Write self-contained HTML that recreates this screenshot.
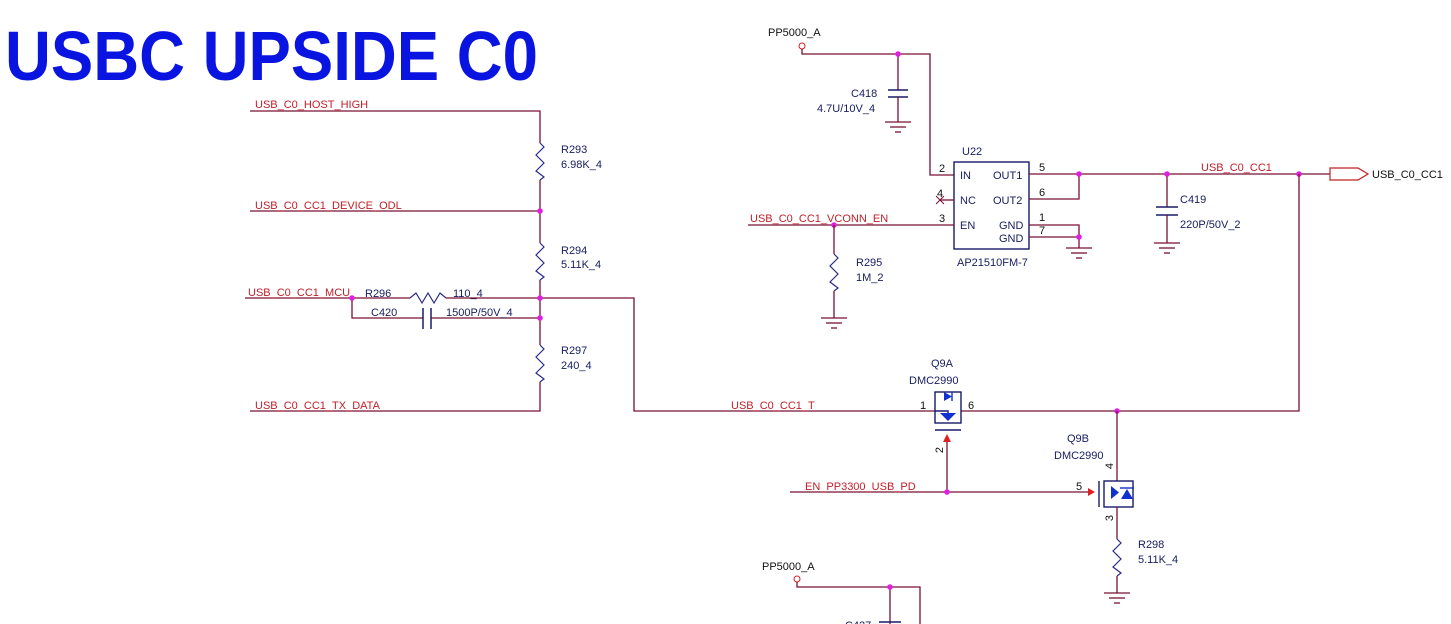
<!DOCTYPE html>
<html><head><meta charset="utf-8"><style>
html,body{margin:0;padding:0;background:#fff;width:1451px;height:624px;overflow:hidden}
svg{display:block}
.w{stroke:#7a1030;stroke-width:1.3;fill:none}
.r{stroke:#2a2a8a;stroke-width:1.2;fill:none}
.c{stroke:#1a1a6a;stroke-width:1.5;fill:none}
.d{fill:#e020e0}
.nl{fill:#c0202a;font-family:"Liberation Sans",sans-serif;font-size:11px}
.cl{fill:#1a2060;font-family:"Liberation Sans",sans-serif;font-size:11px}
.pl{fill:#111;font-family:"Liberation Sans",sans-serif;font-size:11px}
.bk{stroke:#1a1a6a;stroke-width:1.4;fill:none}
.bl{fill:#1030d0}
</style></head><body>
<svg width="1451" height="624" viewBox="0 0 1451 624" xmlns="http://www.w3.org/2000/svg">
<defs>
<g id="gnd"><line x1="-13" y1="0" x2="13" y2="0" stroke="#7a1030" stroke-width="1.3"/><line x1="-8" y1="5" x2="8" y2="5" stroke="#7a1030" stroke-width="1.3"/><line x1="-3" y1="10" x2="3" y2="10" stroke="#7a1030" stroke-width="1.3"/></g>
<g id="res"><polyline points="0,0 4,4 -4,12 4,20 -4,28 4,34 0,37" stroke="#2a2a8a" stroke-width="1.2" fill="none"/></g>
</defs>
<text x="5" y="80" font-family="'Liberation Sans',sans-serif" font-weight="bold" font-size="70" fill="#0a14e0" textLength="533" lengthAdjust="spacingAndGlyphs">USBC UPSIDE C0</text>

<!-- Left section -->
<polyline class="w" points="250,111 540,111 540,143"/>
<use href="#res" x="540" y="143"/>
<line class="w" x1="540" y1="180" x2="540" y2="243"/>
<use href="#res" x="540" y="243"/>
<line class="w" x1="540" y1="280" x2="540" y2="345"/>
<use href="#res" x="540" y="345"/>
<polyline class="w" points="540,382 540,411 250,411"/>
<line class="w" x1="250" y1="211" x2="540" y2="211"/>
<line class="w" x1="245" y1="298" x2="410" y2="298"/>
<polyline class="r" points="410,298 416,293 422,303 428,293 434,303 440,293 446,298"/>
<line class="w" x1="446" y1="298" x2="540" y2="298"/>
<polyline class="w" points="352,298 352,318 423,318"/>
<line class="c" x1="423" y1="308" x2="423" y2="329"/><line class="c" x1="431" y1="308" x2="431" y2="329"/>
<line class="w" x1="431" y1="318" x2="540" y2="318"/>
<polyline class="w" points="540,298 634,298 634,411 935,411"/>
<circle class="d" cx="540" cy="211" r="2.8"/><circle class="d" cx="352" cy="298" r="2.8"/><circle class="d" cx="540" cy="298" r="2.8"/><circle class="d" cx="540" cy="318" r="2.8"/>
<text class="nl" x="255" y="108">USB_C0_HOST_HIGH</text>
<text class="nl" x="255" y="209">USB_C0_CC1_DEVICE_ODL</text>
<text class="nl" x="248" y="296">USB_C0_CC1_MCU</text>
<text class="nl" x="255" y="409">USB_C0_CC1_TX_DATA</text>
<text class="cl" x="561" y="153">R293</text><text class="cl" x="561" y="168">6.98K_4</text>
<text class="cl" x="561" y="254">R294</text><text class="cl" x="561" y="268">5.11K_4</text>
<text class="cl" x="561" y="354">R297</text><text class="cl" x="561" y="369">240_4</text>
<text class="cl" x="365" y="297">R296</text><text class="cl" x="453" y="297">110_4</text>
<text class="cl" x="371" y="316">C420</text><text class="cl" x="446" y="316">1500P/50V_4</text>
<text class="nl" x="731" y="409">USB_C0_CC1_T</text>

<!-- U22 section -->
<text class="pl" x="768" y="36" font-size="13">PP5000_A</text>
<circle cx="802" cy="46" r="3" fill="none" stroke="#d02020" stroke-width="1"/>
<polyline class="w" points="802,49 802,54 930,54 930,175 954,175"/>
<polyline class="w" points="898,54 898,90"/>
<line class="c" x1="888" y1="90" x2="908" y2="90"/><line class="c" x1="888" y1="97" x2="908" y2="97"/>
<line class="w" x1="898" y1="97" x2="898" y2="122"/>
<use href="#gnd" x="898" y="122"/>
<circle class="d" cx="898" cy="54" r="2.8"/>
<text class="cl" x="851" y="97">C418</text><text class="cl" x="817" y="112">4.7U/10V_4</text>
<rect x="954" y="162" width="75" height="87" fill="none" stroke="#1a1a6a" stroke-width="1.4"/>
<text class="cl" x="962" y="155">U22</text>
<text class="cl" x="960" y="179">IN</text><text class="cl" x="960" y="204">NC</text><text class="cl" x="960" y="229">EN</text>
<text class="cl" x="993" y="179">OUT1</text><text class="cl" x="993" y="204">OUT2</text><text class="cl" x="999" y="229">GND</text><text class="cl" x="999" y="242">GND</text>
<text class="cl" x="957" y="266">AP21510FM-7</text>
<text class="pl" x="939" y="172">2</text><text class="pl" x="937" y="197">4</text><text class="pl" x="939" y="222">3</text>
<text class="pl" x="1039" y="171">5</text><text class="pl" x="1039" y="196">6</text><text class="pl" x="1039" y="221">1</text><text class="pl" x="1039" y="234">7</text>
<line class="w" x1="940" y1="200" x2="954" y2="200"/>
<path d="M936,196 L944,204 M944,196 L936,204" stroke="#7a1030" stroke-width="1"/>
<line class="w" x1="748" y1="225" x2="954" y2="225"/>
<circle class="d" cx="834" cy="225" r="2.8"/>
<line class="w" x1="834" y1="225" x2="834" y2="254"/>
<use href="#res" x="834" y="254"/>
<line class="w" x1="834" y1="291" x2="834" y2="318"/>
<use href="#gnd" x="834" y="318"/>
<text class="nl" x="750" y="222">USB_C0_CC1_VCONN_EN</text>
<text class="cl" x="856" y="266">R295</text><text class="cl" x="856" y="281">1M_2</text>
<line class="w" x1="1029" y1="174" x2="1330" y2="174"/>
<polyline class="w" points="1029,199 1079,199 1079,174"/>
<polyline class="w" points="1029,225 1079,225 1079,248"/>
<line class="w" x1="1029" y1="237" x2="1079" y2="237"/>
<use href="#gnd" x="1079" y="248"/>
<circle class="d" cx="1079" cy="174" r="2.8"/><circle class="d" cx="1079" cy="237" r="2.8"/>
<line class="w" x1="1167" y1="174" x2="1167" y2="207"/>
<line class="c" x1="1156" y1="207" x2="1178" y2="207"/><line class="c" x1="1156" y1="215" x2="1178" y2="215"/>
<line class="w" x1="1167" y1="215" x2="1167" y2="243"/>
<use href="#gnd" x="1167" y="243"/>
<circle class="d" cx="1167" cy="174" r="2.8"/>
<text class="cl" x="1180" y="203">C419</text><text class="cl" x="1180" y="228">220P/50V_2</text>
<text class="nl" x="1201" y="171">USB_C0_CC1</text>
<circle class="d" cx="1299" cy="174" r="2.8"/>
<polygon points="1330,168 1358,168 1368,174 1358,180 1330,180" fill="none" stroke="#c02020" stroke-width="1.2"/>
<text class="pl" x="1372" y="178">USB_C0_CC1</text>
<polyline class="w" points="1299,174 1299,411 961,411"/>

<!-- Q9A -->
<rect x="935" y="392" width="26" height="31" class="bk"/>
<polygon class="bl" points="944,392 944,401 952,396.5"/><line x1="952" y1="392" x2="952" y2="401" stroke="#1030d0" stroke-width="1.4"/>
<polyline class="bk" points="935,411 948,411 948,413"/>
<polygon class="bl" points="940,413 956,413 948,421"/>
<line class="bk" x1="935" y1="430" x2="961" y2="430"/>
<polygon points="943,442 951,442 947,434" fill="#e02020"/>
<line class="w" x1="947" y1="442" x2="947" y2="492"/>
<text class="cl" x="931" y="367">Q9A</text><text class="cl" x="909" y="384">DMC2990</text>
<text class="pl" x="920" y="409">1</text><text class="pl" x="968" y="409">6</text>
<text class="pl" x="943" y="447" transform="rotate(-90 943 447)" text-anchor="end">2</text>
<line class="w" x1="790" y1="492" x2="1088" y2="492"/>
<circle class="d" cx="947" cy="492" r="2.8"/>
<text class="nl" x="805" y="490">EN_PP3300_USB_PD</text>

<!-- Q9B -->
<circle class="d" cx="1117" cy="411" r="2.8"/>
<line class="w" x1="1117" y1="411" x2="1117" y2="481"/>
<polygon points="1088,488 1088,496 1095,492" fill="#e02020"/>
<line class="bk" x1="1099" y1="481" x2="1099" y2="507"/>
<rect x="1104" y="481" width="29" height="26" class="bk"/>
<polygon class="bl" points="1111,486 1111,499 1119,492.5"/>
<polygon class="bl" points="1121,499 1133,499 1127,489"/><line x1="1120" y1="488" x2="1134" y2="488" stroke="#1030d0" stroke-width="1.4"/>
<line class="w" x1="1117" y1="507" x2="1117" y2="539"/>
<use href="#res" x="1117" y="539"/>
<line class="w" x1="1117" y1="576" x2="1117" y2="593"/>
<use href="#gnd" x="1117" y="593"/>
<text class="cl" x="1067" y="442">Q9B</text><text class="cl" x="1054" y="459">DMC2990</text>
<text class="pl" x="1076" y="490">5</text>
<text class="pl" x="1113" y="466" transform="rotate(-90 1113 466)" text-anchor="middle">4</text>
<text class="pl" x="1113" y="518" transform="rotate(-90 1113 518)" text-anchor="middle">3</text>
<text class="cl" x="1138" y="548">R298</text><text class="cl" x="1138" y="563">5.11K_4</text>

<!-- bottom -->
<text class="pl" x="762" y="570" font-size="13">PP5000_A</text>
<circle cx="797" cy="579" r="3" fill="none" stroke="#d02020" stroke-width="1"/>
<polyline class="w" points="797,582 797,587 920,587 920,624"/>
<line class="w" x1="890" y1="587" x2="890" y2="624"/>
<circle class="d" cx="890" cy="587" r="2.8"/>
<line class="c" x1="879" y1="622" x2="901" y2="622"/>
<text class="cl" x="845" y="629">C427</text>
</svg>
</body></html>
